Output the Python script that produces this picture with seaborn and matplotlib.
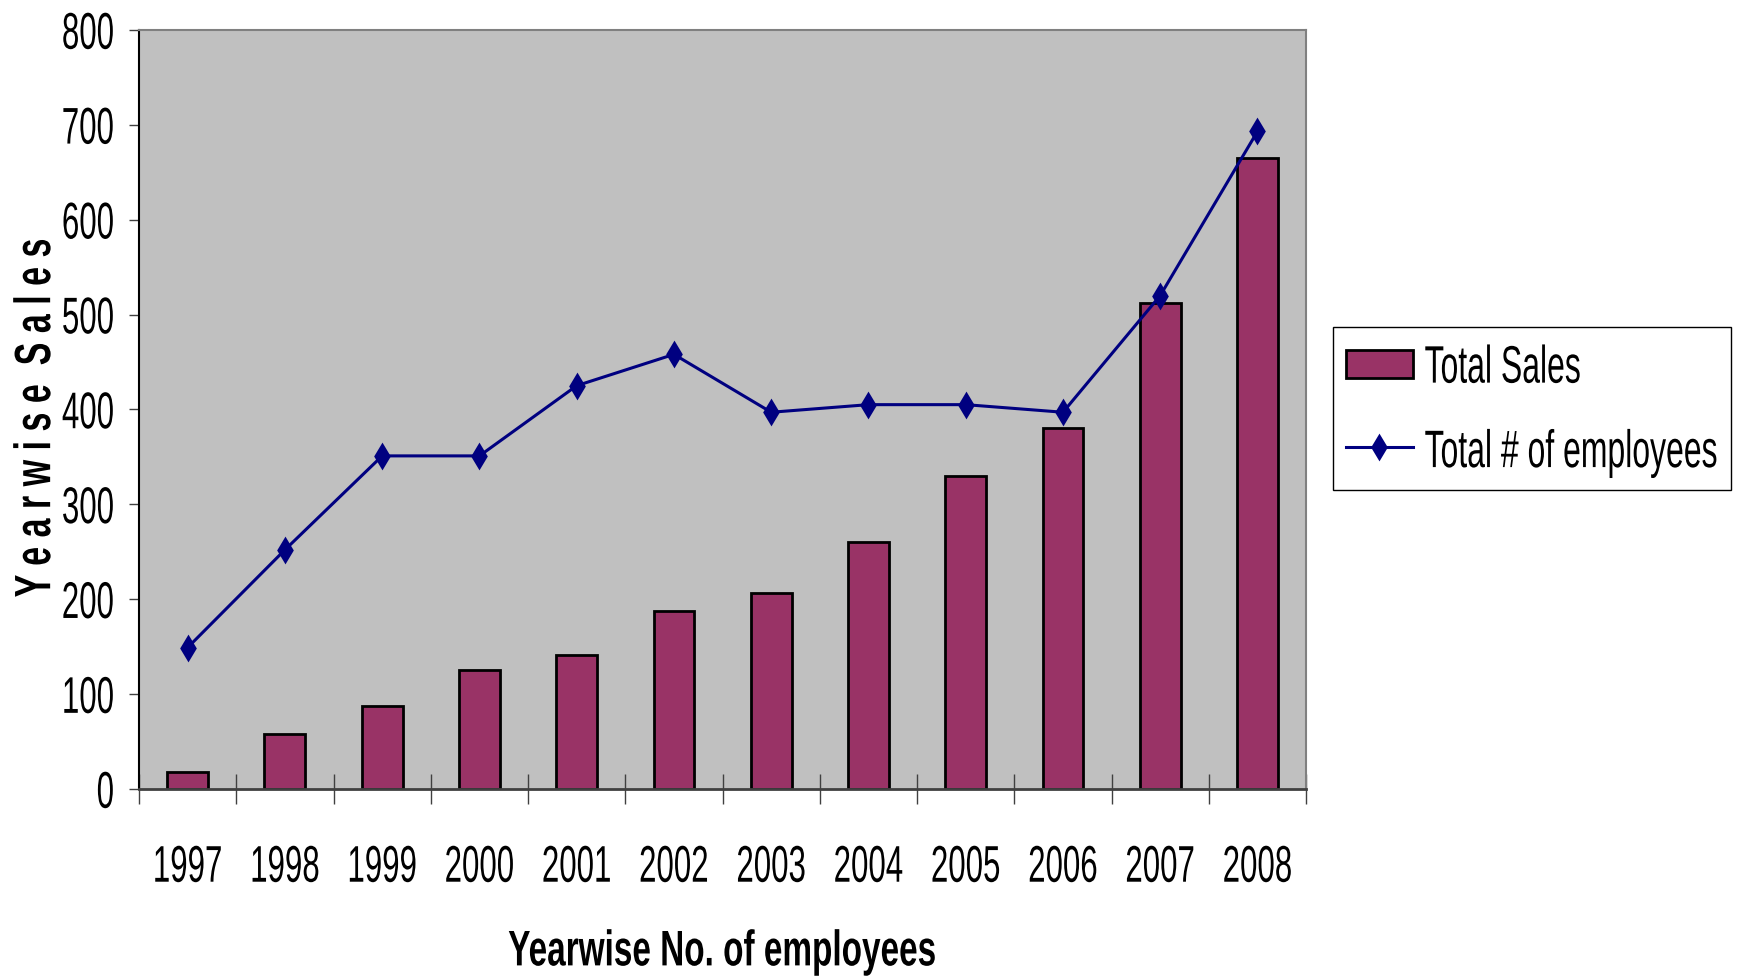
import numpy as np
import pandas as pd
import matplotlib
matplotlib.use('Agg')
import matplotlib.pyplot as plt
import seaborn as sns
from matplotlib import patheffects
from matplotlib.transforms import Affine2D
from matplotlib.patches import Patch, Rectangle
from matplotlib.lines import Line2D

# datos
years = ['1997', '1998', '1999', '2000', '2001', '2002',
         '2003', '2004', '2005', '2006', '2007', '2008']
total_sales = [18, 58, 87, 125, 141, 187, 207, 260, 330, 380, 512, 665]
employees = [149, 252, 351, 351, 425, 458, 397, 405, 405, 397, 520, 693]
y_ticks = [0, 100, 200, 300, 400, 500, 600, 700, 800]

bar_color = '#993366'
line_color = '#000080'
fondo = '#C0C0C0'

plt.rcParams['font.family'] = ['Liberation Sans', 'DejaVu Sans']


# el original usa una letra estrecha y alta: se estira el texto en vertical
class Estirar(patheffects.AbstractPathEffect):
    def __init__(self, k):
        super().__init__()
        self.k = k

    def draw_path(self, renderer, gc, tpath, affine, rgbFace=None):
        t = Affine2D().translate(0, -36).scale(1, self.k).translate(0, 36)
        renderer.draw_path(gc, tpath, t + affine, rgbFace)


diamond = [(0, 1), (0.6, 0), (0, -1), (-0.6, 0), (0, 1)]

df = pd.DataFrame({'year': years, 'sales': total_sales, 'employees': employees})

fig = plt.figure(figsize=(17.38, 9.8), dpi=100)
ax = fig.add_axes([0.080, 0.195, 0.6715, 0.7745])
ax.set_facecolor(fondo)

sns.barplot(data=df, x='year', y='sales', color=bar_color, saturation=1,
            width=0.42, edgecolor='black', linewidth=2, ax=ax)
sns.pointplot(data=df, x='year', y='employees', color=line_color, errorbar=None,
              marker=diamond, markersize=20, markeredgewidth=0, linewidth=2.2, ax=ax)

ax.set_xlim(-0.5, 11.5)
ax.set_ylim(0, 800)
ax.set_yticks(y_ticks)
ax.set_xticks(range(len(years)))
ax.set_xticklabels(years)
ax.set_xticks(np.arange(-0.5, len(years), 1), minor=True)

ax.tick_params(axis='y', length=7, width=1, pad=11, labelsize=22.5, direction='out', color='#404040')
ax.tick_params(axis='x', which='major', length=0, pad=45, labelsize=22.5)
ax.tick_params(axis='x', which='minor', length=22, width=1, direction='inout', color='#404040')

for lado in ['top', 'right']:
    ax.spines[lado].set_color('#808080')
    ax.spines[lado].set_linewidth(1.5)
ax.spines['left'].set_color('black')
ax.spines['left'].set_linewidth(1.5)
ax.spines['bottom'].set_color('#404040')
ax.spines['bottom'].set_linewidth(2)

ax.set_xlabel('Yearwise No. of employees', fontsize=24, fontweight='bold')
ax.xaxis.set_label_coords(0.5, -0.193)
ax.set_ylabel('')
ylab = ax.text(-0.0887, 0.489, 'Y e a r w i s e  S a l e s', transform=ax.transAxes,
               rotation=90, ha='center', va='center', fontsize=24.5, fontweight='bold')

# caja de la leyenda dibujada aparte (margen lateral pequeño, vertical grande)
caja = (1333 / 1738, 1 - 490 / 980, 398 / 1738, 163 / 980)
fig.patches.append(Rectangle(caja[:2], caja[2], caja[3], transform=fig.transFigure,
                             facecolor='white', edgecolor='black', linewidth=1, zorder=-1))

handles = [Patch(facecolor=bar_color, edgecolor='black', linewidth=2, label='Total Sales'),
           Line2D([], [], color=line_color, lw=2.2, marker=diamond, ms=20, mew=0,
                  label='Total # of employees')]
leg = ax.legend(handles=handles, loc='center',
                bbox_to_anchor=(caja[0] + caja[2] / 2, caja[1] + caja[3] / 2),
                bbox_transform=fig.transFigure, frameon=False, prop={'size': 23},
                handlelength=2.1, handleheight=0.95, handletextpad=0.37,
                labelspacing=1.65, borderpad=0, borderaxespad=0)

for t in ax.get_xticklabels() + ax.get_yticklabels() + leg.get_texts():
    t.set_path_effects([Estirar(1.65)])
ax.xaxis.label.set_path_effects([Estirar(1.5)])
ylab.set_path_effects([Estirar(1.5)])

fig.savefig('out.png', dpi=100)
